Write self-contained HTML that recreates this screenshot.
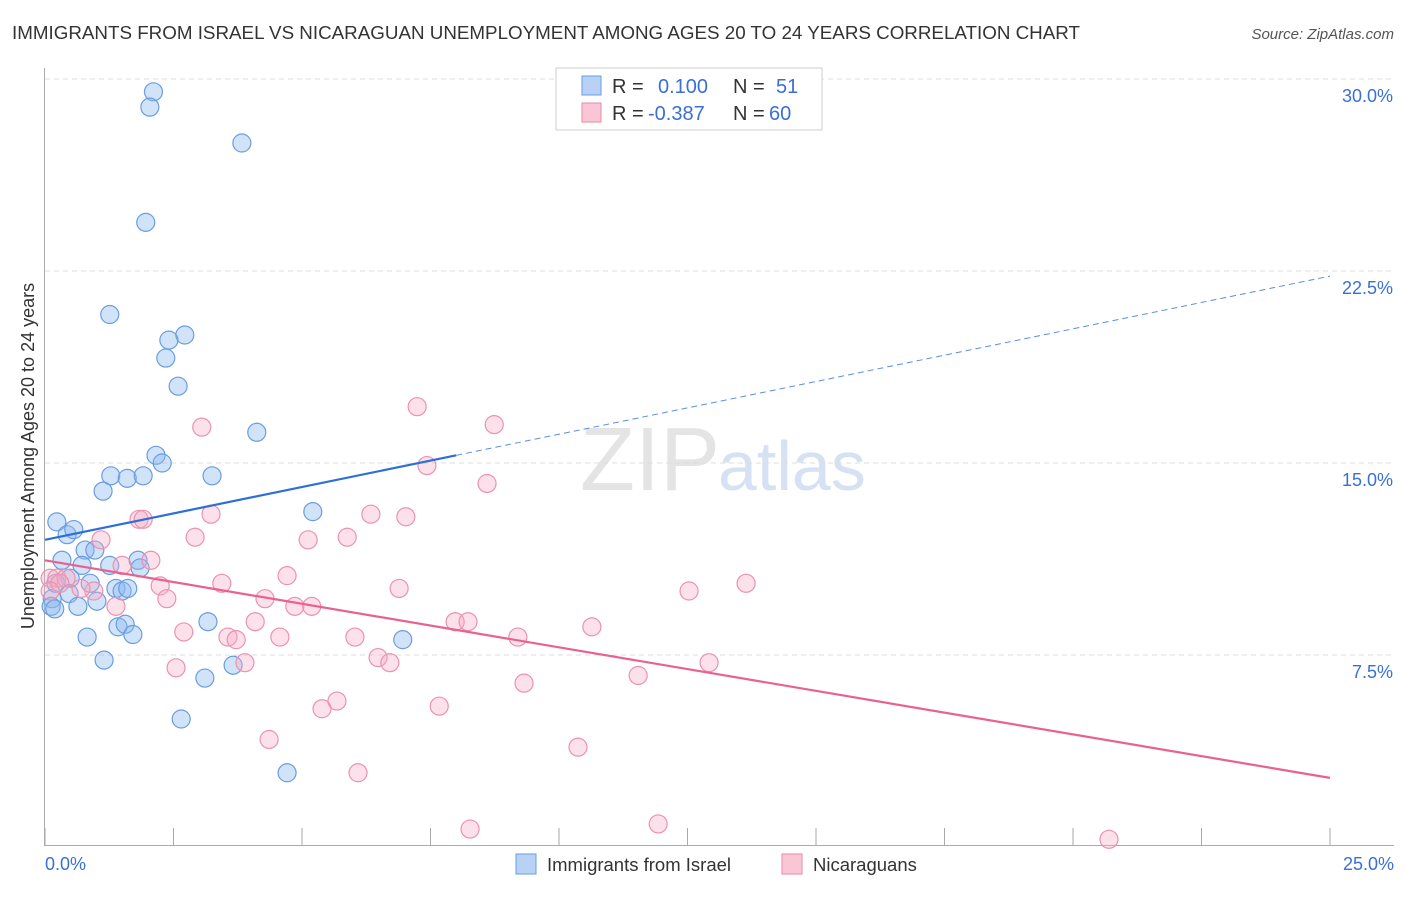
<!DOCTYPE html>
<html><head><meta charset="utf-8"><style>
body{margin:0;background:#fff;font-family:"Liberation Sans",sans-serif}
svg text{font-family:"Liberation Sans",sans-serif}
</style></head><body>
<svg width="1406" height="892">
<text x="12" y="39" font-size="18.8" fill="#333">IMMIGRANTS FROM ISRAEL VS NICARAGUAN UNEMPLOYMENT AMONG AGES 20 TO 24 YEARS CORRELATION CHART</text>
<text x="1394" y="39" font-size="15" fill="#555" font-style="italic" text-anchor="end">Source: ZipAtlas.com</text>
<text x="720" y="490" font-size="90" fill="#e4e4e4" text-anchor="end" font-family="Liberation Serif">ZIP</text>
<text x="718" y="490" font-size="70" fill="#d6e2f3">atlas</text>
<g id="grid"></g><g id="axes"></g><g id="pts"></g><g id="trend"></g>
<text transform="translate(34,456) rotate(-90)" font-size="18" fill="#333" text-anchor="middle">Unemployment Among Ages 20 to 24 years</text>
<text x="45" y="870" font-size="18" fill="#3a6fd8">0.0%</text>
<text x="1394" y="870" font-size="18" fill="#3a6fd8" text-anchor="end">25.0%</text>
<g>
<rect x="556" y="68" width="266" height="62" fill="#fff" stroke="#ccc"/>
<rect x="582" y="76" width="19" height="19" fill="#b7d2f5" stroke="#6a9de0"/>
<rect x="582" y="103" width="19" height="19" fill="#f9c6d6" stroke="#e88aa9"/>
<text y="93" font-size="20" fill="#333"><tspan x="612">R =</tspan><tspan x="658" fill="#3a6fd8">0.100</tspan><tspan x="733">N =</tspan><tspan x="776" fill="#3a6fd8">51</tspan></text>
<text y="120" font-size="20" fill="#333"><tspan x="612">R =</tspan><tspan x="648" fill="#3a6fd8">-0.387</tspan><tspan x="733">N =</tspan><tspan x="769" fill="#3a6fd8">60</tspan></text>
</g>
<g>
<rect x="516" y="854" width="20" height="20" fill="#b7d2f5" stroke="#6a9de0"/>
<text x="547" y="871" font-size="18.5" fill="#333">Immigrants from Israel</text>
<rect x="782" y="854" width="20" height="20" fill="#f9c6d6" stroke="#e88aa9"/>
<text x="813" y="871" font-size="18.5" fill="#333">Nicaraguans</text>
</g>
</svg>
<script>
const yTicks=[7.5,15,22.5,30];
const yTickLabels=["7.5%","15.0%","22.5%","30.0%"];
const xTicks=[0,2.5,5,7.5,10,12.5,15,17.5,20,22.5,25];
const israelX=[2.11,2.04,3.83,1.96,1.26,2.72,2.41,2.35,2.59,4.12,2.16,2.28,1.28,3.25,1.6,1.91,1.13,0.23,0.43,0.56,5.21,0.78,0.97,0.33,1.26,0.72,1.81,1.85,0.49,0.21,0.88,1.38,1.5,1.61,0.14,0.47,0.12,0.19,1.01,0.64,0.82,1.42,1.56,1.71,3.17,6.96,1.15,3.66,3.11,2.65,4.71];
const israelY=[29.5,28.9,27.5,24.4,20.8,20.0,19.8,19.1,18.0,16.2,15.3,15.0,14.5,14.5,14.4,14.5,13.9,12.7,12.2,12.4,13.1,11.6,11.6,11.2,11.0,11.0,11.2,10.9,10.5,10.3,10.3,10.1,10.0,10.1,9.7,9.9,9.4,9.3,9.6,9.4,8.2,8.6,8.7,8.3,8.8,8.1,7.3,7.1,6.6,5.0,2.9];
const nicX=[7.24,8.74,3.05,7.43,8.6,3.23,1.83,1.91,6.34,7.02,2.92,5.12,5.88,1.09,2.06,1.5,4.71,0.1,0.23,0.41,0.29,2.24,3.44,6.89,13.64,12.53,0.95,0.7,4.28,2.37,1.38,4.86,5.19,4.09,7.98,8.23,10.64,2.7,3.56,3.72,4.57,6.03,9.2,6.48,6.71,12.92,3.89,2.55,11.54,9.32,5.68,5.39,7.67,4.36,10.37,6.09,8.27,11.93,20.7,0.1];
const nicY=[17.2,16.5,16.4,14.9,14.2,13.0,12.8,12.8,13.0,12.9,12.1,12.0,12.1,12.0,11.2,11.0,10.6,10.5,10.5,10.5,10.3,10.2,10.3,10.1,10.3,10.0,10.0,10.1,9.7,9.7,9.4,9.4,9.4,8.8,8.8,8.8,8.6,8.4,8.2,8.1,8.2,8.2,8.2,7.4,7.2,7.2,7.2,7.0,6.7,6.4,5.7,5.4,5.5,4.2,3.9,2.9,0.7,0.9,0.3,10.0];
const israelTrend=[[0,12.0],[8.0,15.3]];
const israelDash=[[8.0,15.3],[25,22.3]];
const nicTrend=[[0,11.2],[25,2.7]];
const NS="http://www.w3.org/2000/svg";
const X=v=>45+v*51.4, Y=v=>847-v*25.6;
function mk(t,a,p){const e=document.createElementNS(NS,t);for(const k in a)e.setAttribute(k,a[k]);p.appendChild(e);return e;}
const grid=document.getElementById('grid'),axes=document.getElementById('axes'),pts=document.getElementById('pts'),tr=document.getElementById('trend');
yTicks.forEach((t,i)=>{
 const l=mk('line',{x1:45,x2:1394,y1:Y(t),y2:Y(t),stroke:'#ddd','stroke-dasharray':'5,4'},grid);
 
 
 const tx=mk('text',{x:1393,y:Y(t)+23,'font-size':18,fill:'#3a6fd8','text-anchor':'end'},grid);
 tx.textContent=yTickLabels[i];
 
 
});
const ya=mk('line',{x1:44.5,x2:44.5,y1:68,y2:846,stroke:'#aaa'},axes);


const xa=mk('line',{x1:44,x2:1394,y1:845.5,y2:845.5,stroke:'#aaa'},axes);


xTicks.forEach(t=>{
 const l=mk('line',{x1:X(t),x2:X(t),y1:828,y2:845,stroke:'#aaa'},axes);
 
 
});
israelX.forEach((x,i)=>{
 const c=mk('circle',{cx:X(x),cy:Y(israelY[i]),r:9,fill:'rgba(140,185,240,0.4)',stroke:'#6a9de0','stroke-width':1.2},pts);
 
 
});
nicX.forEach((x,i)=>{
 const c=mk('circle',{cx:X(x),cy:Y(nicY[i]),r:9,fill:'rgba(245,170,195,0.35)',stroke:'#eb92b0','stroke-width':1.2},pts);
 
 
});
const l1=mk('line',{x1:X(israelTrend[0][0]),y1:Y(israelTrend[0][1]),x2:X(israelTrend[1][0]),y2:Y(israelTrend[1][1]),stroke:'#2d6fd6','stroke-width':2.2},tr);


const l2=mk('line',{x1:X(israelDash[0][0]),y1:Y(israelDash[0][1]),x2:X(israelDash[1][0]),y2:Y(israelDash[1][1]),stroke:'#5b8fdc','stroke-width':1,'stroke-dasharray':'6,4'},tr);


const l3=mk('line',{x1:X(nicTrend[0][0]),y1:Y(nicTrend[0][1]),x2:X(nicTrend[1][0]),y2:Y(nicTrend[1][1]),stroke:'#e8628d','stroke-width':2.2},tr);


</script>
</body></html>
